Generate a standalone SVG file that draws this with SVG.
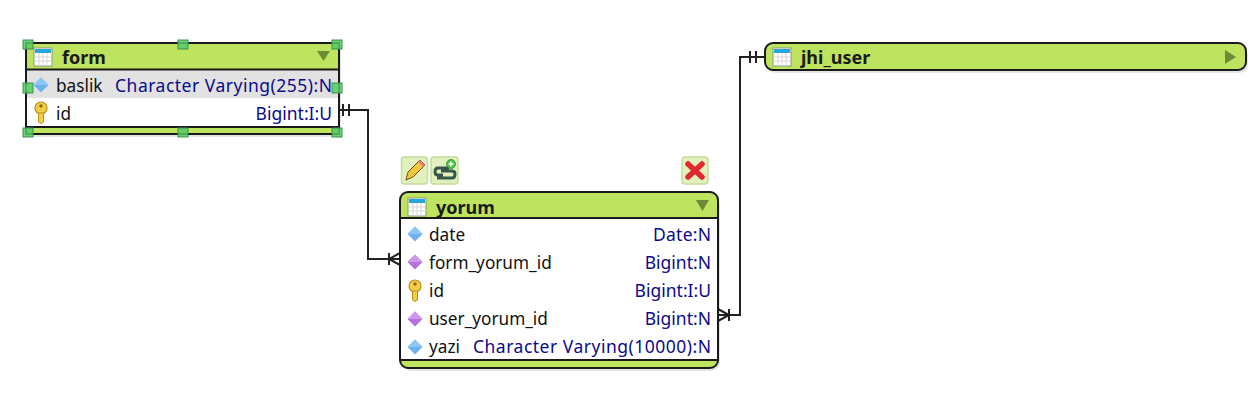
<svg xmlns="http://www.w3.org/2000/svg" width="1258" height="403" viewBox="0 0 1258 403">
<style>
text{font-family:"Noto Sans","Liberation Sans",sans-serif;font-size:17.2px}
.name{fill:#111}
.type{fill:#0b0b8c;text-anchor:end;font-size:17.5px}
.title{font-weight:700;font-size:18px;fill:#1a1a1a}
.box{fill:#fff;stroke:#1a1a1a;stroke-width:2}
.hdr{fill:#bee35f}
.sep{stroke:#1a1a1a;stroke-width:2;fill:none}
.conn{stroke:#222;stroke-width:2;fill:none}
.handle{fill:#55c965;stroke:#3f8f4f;stroke-width:1;fill-opacity:.85}
.btn{fill:#e2f0bd;stroke:#c5dc9a;stroke-width:1.5}
.arrow{fill:#6f8a35}
.shadow{fill:#000;fill-opacity:.1}
</style>
<defs>
<g id="tbl">
<rect x="0" y="0" width="18" height="18" fill="#fff" stroke="#8a9a80" stroke-width="1"/>
<rect x="1" y="1" width="16" height="4" fill="#2aa5dc"/>
<path d="M1 9H17M1 13H17M5 5V18M9 5V18M13 5V18" stroke="#d5d5d5" stroke-width="1" fill="none"/>
</g>
<g id="blue"><path d="M0 -7.500L7.500 0L0 7.500L-7.500 0Z" fill="#6eb1ee"/><path d="M0 -7.500L7.500 0L0 0L-7.500 0Z" fill="#8cc6f5"/></g>
<g id="purple"><path d="M0 -7.500L7.500 0L0 7.500L-7.500 0Z" fill="#b672dc"/><path d="M0 -7.500L7.500 0L0 0L-7.500 0Z" fill="#cf98ec"/></g>
<g id="key"><circle cx="0" cy="-4" r="6" fill="#f4cf45" stroke="#b8901c" stroke-width="1.200"/><path d="M-2.500 1V10L0 11.500L2.500 10V1Z" fill="#f4cf45" stroke="#b8901c" stroke-width="1"/><circle cx="0" cy="-6" r="1.700" fill="#8a6a10"/></g>
</defs>

<g id="connectors">
<path class="conn" d="M340 110H368V259H400"/>
<path class="conn" d="M343 104V116M349 104V116"/>
<path class="conn" d="M389 253V265M400 253L389 259L400 265"/>
<path class="conn" d="M765 57H740V315H718"/>
<path class="conn" d="M750 51V63M756 51V63"/>
<path class="conn" d="M729 309V321M718 309L729 315L718 321"/>
</g>

<g id="form">
<rect class="shadow" x="28" y="46" width="313" height="91"/>
<rect class="hdr" x="26" y="43" width="313" height="91"/>
<rect x="27" y="70" width="311" height="28" fill="#e2e2e2"/>
<rect x="27" y="98" width="311" height="29" fill="#fff"/>
<rect x="26" y="43" width="313" height="91" fill="none" stroke="#1a1a1a" stroke-width="2"/>
<path class="sep" d="M26 69.500H339M26 127H339"/>
<use href="#tbl" x="34" y="48"/>
<text class="title" x="62" y="64">form</text>
<path class="arrow" d="M317 51H330L323.500 61Z"/>
<use href="#blue" x="41" y="85"/>
<text class="name" x="56" y="92">baslik</text>
<text class="type" x="332" y="92" textLength="217" lengthAdjust="spacing">Character Varying(255):N</text>
<use href="#key" x="41" y="112"/>
<text class="name" x="56" y="120">id</text>
<text class="type" x="332" y="120">Bigint:I:U</text>
<rect class="handle" x="23" y="40" width="10" height="9"/>
<rect class="handle" x="178" y="40" width="10" height="9"/>
<rect class="handle" x="332" y="40" width="10" height="9"/>
<rect class="handle" x="23" y="83" width="10" height="10"/>
<rect class="handle" x="332" y="83" width="10" height="10"/>
<rect class="handle" x="23" y="128" width="10" height="9"/>
<rect class="handle" x="178" y="128" width="10" height="9"/>
<rect class="handle" x="332" y="128" width="10" height="9"/>
</g>

<g id="jhi_user">
<rect class="shadow" x="767" y="46" width="481" height="27" rx="9"/>
<rect class="hdr" x="765" y="43" width="481" height="27" rx="8" stroke="#1a1a1a" stroke-width="2"/>
<use href="#tbl" x="773" y="48"/>
<text class="title" x="801" y="64">jhi_user</text>
<path class="arrow" d="M1225 50V64L1236 57Z"/>
</g>

<g id="yorum">
<rect class="shadow" x="402" y="195" width="318" height="176" rx="9"/>
<rect class="hdr" x="400" y="192" width="318" height="176" rx="8"/>
<rect x="401" y="218" width="316" height="142" fill="#fff"/>
<rect x="400" y="192" width="318" height="176" rx="8" fill="none" stroke="#1a1a1a" stroke-width="2"/>
<path class="sep" d="M400 218H718M400 360H718"/>
<use href="#tbl" x="408" y="198"/>
<text class="title" x="436" y="214">yorum</text>
<path class="arrow" d="M696 200H709L702.500 211Z"/>
<use href="#blue" x="415" y="234"/>
<text class="name" x="429" y="241">date</text>
<text class="type" x="711" y="241" textLength="58" lengthAdjust="spacing">Date:N</text>
<use href="#purple" x="415" y="262"/>
<text class="name" x="429" y="269">form_yorum_id</text>
<text class="type" x="711" y="269">Bigint:N</text>
<use href="#key" x="415" y="290"/>
<text class="name" x="429" y="297">id</text>
<text class="type" x="711" y="297">Bigint:I:U</text>
<use href="#purple" x="415" y="319"/>
<text class="name" x="429" y="325">user_yorum_id</text>
<text class="type" x="711" y="325">Bigint:N</text>
<use href="#blue" x="415" y="347"/>
<text class="name" x="429" y="353">yazi</text>
<text class="type" x="711" y="353" textLength="238" lengthAdjust="spacing">Character Varying(10000):N</text>
<rect class="btn" x="401.500" y="157" width="26" height="27" rx="3"/>
<path d="M406 180L408 172L420 160L425 165L413 177Z" fill="#f5c83c" stroke="#6a5018" stroke-width="1"/>
<path d="M420 160L425 165L423 167L418 162Z" fill="#e8808a"/>
<rect class="btn" x="431" y="157" width="27" height="27" rx="3"/>
<path d="M449 168H438Q435 168 435 172Q435 175 438 175H443M441 171H452Q455 171 455 174Q455 178 452 178H437" fill="none" stroke="#35584a" stroke-width="3"/>
<circle cx="451" cy="164" r="4.500" fill="#4cc44c" stroke="#2a8a2a" stroke-width=".8"/>
<path d="M448.500 164H453.500M451 161.500V166.500" stroke="#fff" stroke-width="1.500"/>
<rect class="btn" x="682" y="157" width="26" height="27" rx="3"/>
<path d="M688 164L702 177M702 164L688 177" stroke="#e0282e" stroke-width="5.500" stroke-linecap="round"/>
</g>
</svg>
